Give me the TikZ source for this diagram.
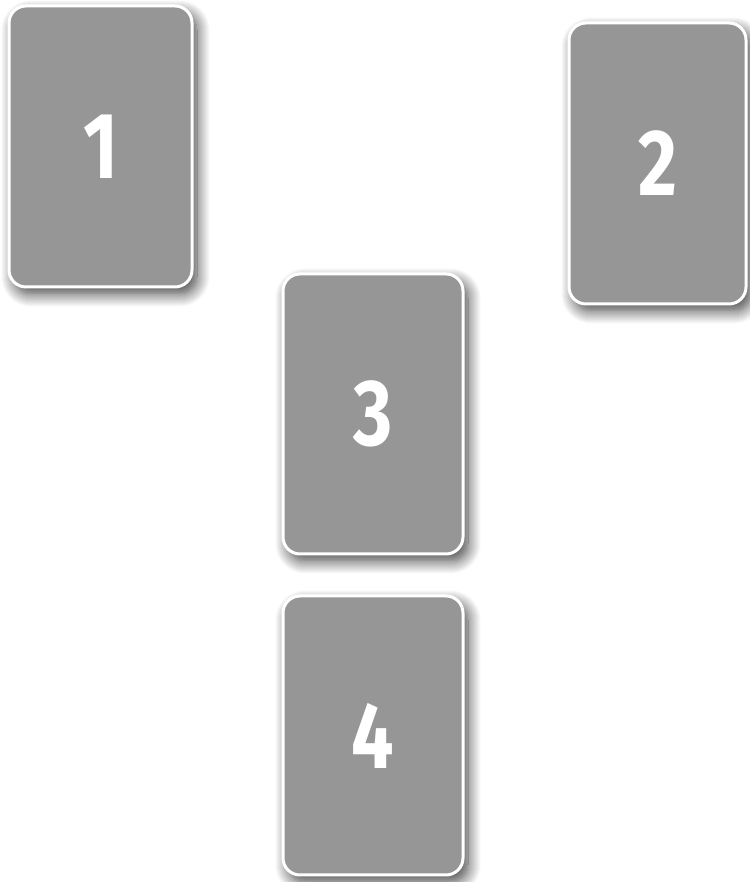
\documentclass[tikz,border=0pt]{standalone}
\usepackage{fontspec}
\setmainfont{Fira Sans}
\usetikzlibrary{shadows.blur}
\definecolor{cardgray}{HTML}{969696}
\newcommand{\cardnum}[1]{\scalebox{0.8}[1]{#1}}
\tikzset{
  card/.style={rectangle, rounded corners=17pt, draw=white, line width=3pt,
    fill=cardgray, inner sep=0pt,
    blur shadow={shadow xshift=5pt, shadow yshift=-7pt, shadow blur radius=13pt, shadow opacity=75, shadow blur steps=14},
    text=white, font=\fontsize{94}{94}\selectfont\bfseries}
}
\begin{document}
\begin{tikzpicture}[x=1pt,y=1pt]
\useasboundingbox (0,0) rectangle (749,882);
\node[card, minimum width=183pt, minimum height=281pt] (c1) at (100.5,735.5) {\raisebox{-3pt}{\cardnum{1}}};
\node[card, minimum width=177pt, minimum height=281pt] (c2) at (657.5,718.5) {\raisebox{-3pt}{\cardnum{2}}};
\node[card, minimum width=180pt, minimum height=280pt] (c3) at (373,468) {\raisebox{-4pt}{\cardnum{3}}};
\node[card, minimum width=180pt, minimum height=279pt] (c4) at (373,146.5) {\raisebox{-3pt}{\cardnum{4}}};
\end{tikzpicture}
\end{document}
